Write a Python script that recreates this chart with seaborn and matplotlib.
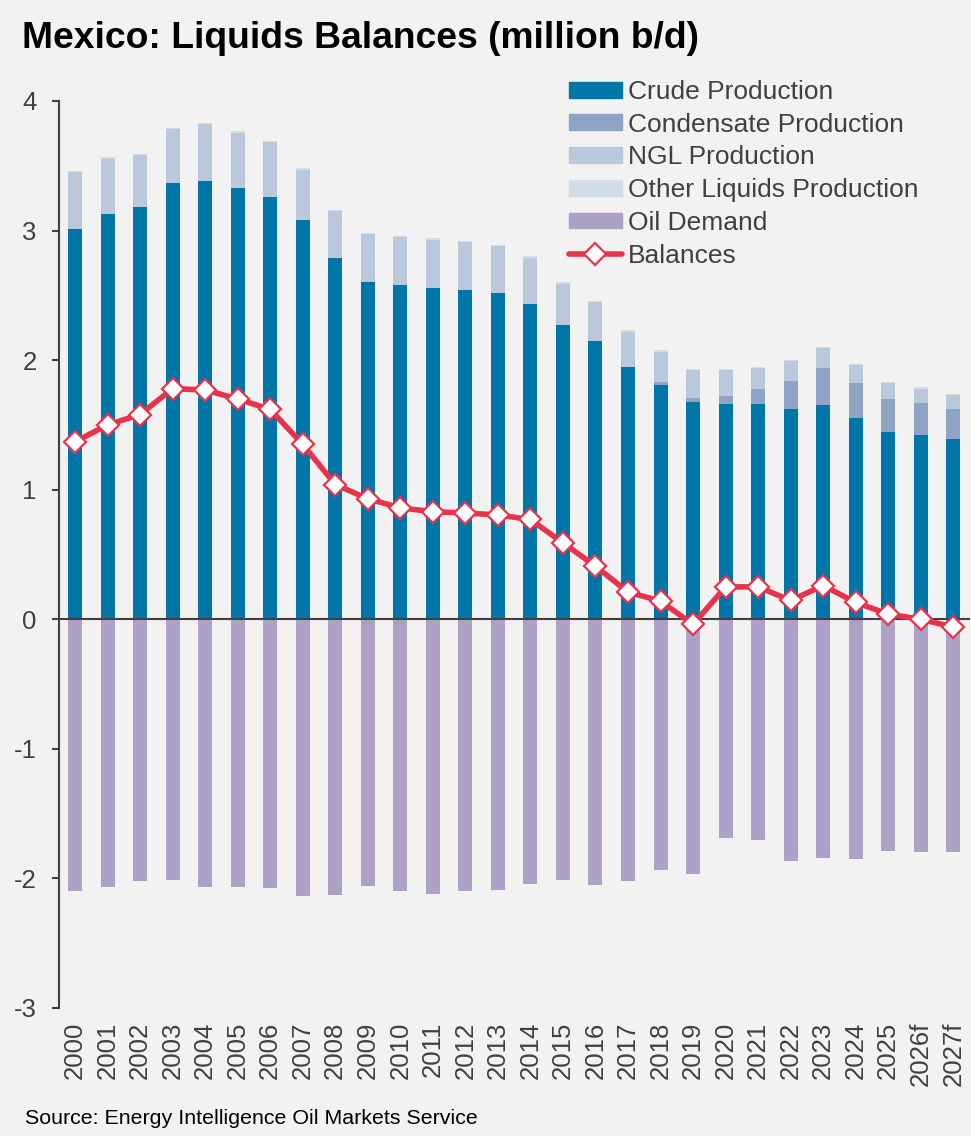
import seaborn as sns
import matplotlib.pyplot as plt
import numpy as np
from matplotlib.patches import Patch
from matplotlib.lines import Line2D

# values (million b/d)
years = [str(y) for y in range(2000, 2026)] + ["2026f", "2027f"]
crude = np.array([3.01, 3.13, 3.18, 3.37, 3.38, 3.33, 3.26, 3.08, 2.79, 2.60,
                  2.58, 2.555, 2.545, 2.52, 2.43, 2.27, 2.15, 1.95, 1.81, 1.68,
                  1.66, 1.66, 1.62, 1.65, 1.55, 1.445, 1.42, 1.39])
condensate = np.array([0] * 18 + [0.02, 0.025, 0.06, 0.12, 0.22, 0.29, 0.27,
                                  0.255, 0.25, 0.23])
ngl = np.array([0.44, 0.425, 0.40, 0.41, 0.44, 0.425, 0.42, 0.39, 0.36, 0.37,
                0.37, 0.375, 0.365, 0.36, 0.36, 0.32, 0.295, 0.27, 0.235, 0.215,
                0.20, 0.16, 0.15, 0.15, 0.14, 0.12, 0.11, 0.11])
other = np.array([0.01] * 28)
demand = np.array([-2.095, -2.07, -2.02, -2.01, -2.07, -2.07, -2.075, -2.135,
                   -2.125, -2.06, -2.095, -2.12, -2.10, -2.09, -2.04, -2.01,
                   -2.05, -2.02, -1.935, -1.965, -1.685, -1.705, -1.865, -1.845,
                   -1.85, -1.79, -1.795, -1.80])
balances = np.array([1.37, 1.50, 1.58, 1.78, 1.77, 1.70, 1.62, 1.35, 1.04, 0.93,
                     0.86, 0.83, 0.82, 0.805, 0.77, 0.59, 0.41, 0.21, 0.14, -0.04,
                     0.25, 0.25, 0.145, 0.26, 0.13, 0.04, 0.0, -0.06])

c_crude = "#0076A8"
c_cond = "#8DA4C4"
c_ngl = "#BAC8DC"
c_other = "#D3DDE8"
c_demand = "#ADA2C6"
c_bal = "#E8334C"
bg = "#F2F2F2"
txt = "#404040"

sns.set_style("white")
plt.rcParams["font.family"] = ["Liberation Sans", "DejaVu Sans"]
plt.rcParams["axes.unicode_minus"] = False

fig = plt.figure(figsize=(9.71, 11.36), dpi=100, facecolor=bg)
ax = fig.add_axes([0.0605, 0.1127, 0.938, 0.7984])
ax.set_facecolor(bg)

w = 0.43
bar_kw = dict(width=w, errorbar=None, saturation=1, linewidth=0, ax=ax)
sns.barplot(x=years, y=crude, color=c_crude, **bar_kw)
sns.barplot(x=years, y=condensate, bottom=crude, color=c_cond, **bar_kw)
sns.barplot(x=years, y=ngl, bottom=crude + condensate, color=c_ngl, **bar_kw)
sns.barplot(x=years, y=other, bottom=crude + condensate + ngl, color=c_other,
            **bar_kw)
sns.barplot(x=years, y=demand, color=c_demand, **bar_kw)

ax.axhline(0, color=txt, lw=1.5, zorder=3)

sns.pointplot(x=years, y=balances, color=c_bal, markers="D", linewidth=4,
              markersize=11, markerfacecolor="white", markeredgecolor=c_bal,
              markeredgewidth=1.6, errorbar=None, ax=ax, zorder=5)

ax.set_ylim(-3, 4)
ax.set_xlim(-0.5, len(years) - 0.5)
ax.set_yticks(range(-3, 5))
ax.set_xlabel("")
ax.set_ylabel("")
for s in ["top", "right", "bottom"]:
    ax.spines[s].set_visible(False)
ax.spines["left"].set_color(txt)
ax.spines["left"].set_linewidth(1.5)
ax.tick_params(axis="y", length=5, width=1.5, color=txt, pad=11,
               labelsize=18.5, labelcolor=txt, left=True)
ax.tick_params(axis="x", length=0, pad=10, labelsize=18.5, labelcolor=txt,
               rotation=90)

handles = [
    Patch(color=c_crude, label="Crude Production"),
    Patch(color=c_cond, label="Condensate Production"),
    Patch(color=c_ngl, label="NGL Production"),
    Patch(color=c_other, label="Other Liquids Production"),
    Patch(color=c_demand, label="Oil Demand"),
    Line2D([], [], color=c_bal, lw=4, marker="D", markersize=11,
           markerfacecolor="white", markeredgecolor=c_bal,
           markeredgewidth=1.6, label="Balances"),
]
leg = fig.legend(handles=handles, loc="upper left",
                 bbox_to_anchor=(569 / 971, 1 - 80 / 1136),
                 bbox_transform=fig.transFigure, frameon=False,
                 fontsize=19, handlelength=2.0, handleheight=0.55,
                 handletextpad=0.25, labelspacing=0.33, borderpad=0,
                 borderaxespad=0)
for t in leg.get_texts():
    t.set_color(txt)

fig.text(22 / 971, 1 - 38 / 1136, "Mexico: Liquids Balances (million b/d)",
         fontsize=26.8, fontweight="bold", color="black", va="center")
fig.text(25 / 971, 1 - 1118 / 1136,
         "Source: Energy Intelligence Oil Markets Service",
         fontsize=15.4, color="black", va="center")

fig.savefig("out.png", dpi=100, facecolor=bg)
